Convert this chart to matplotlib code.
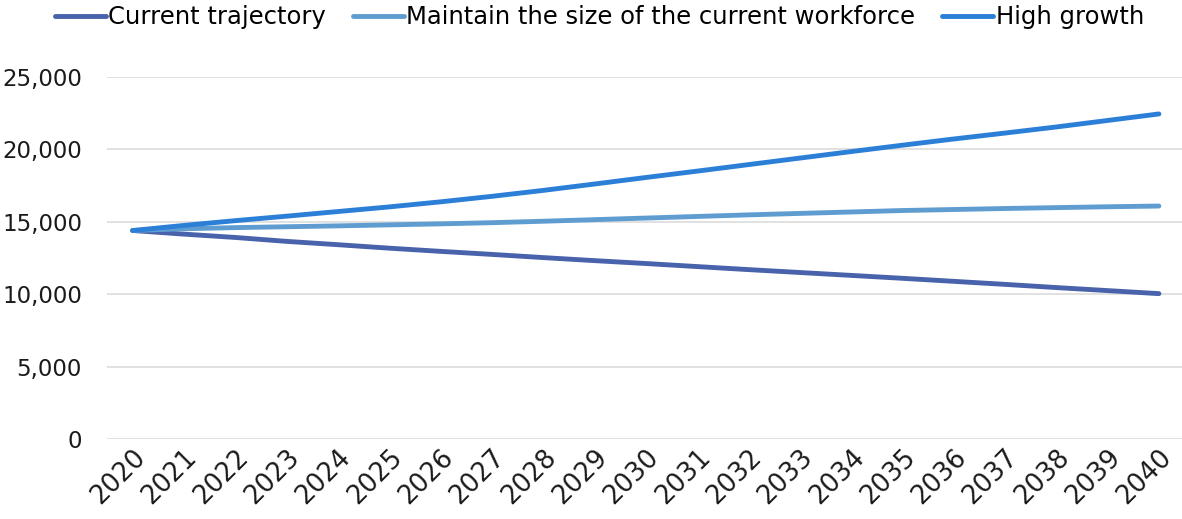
import matplotlib
matplotlib.use("Agg")
import matplotlib.pyplot as plt
from matplotlib.ticker import FuncFormatter

plt.rcParams["font.family"] = ["DejaVu Sans"]

# Workforce projections by scenario, 2020-2040
years = list(range(2020, 2041))
current_trajectory = [14400, 14150, 13920, 13650, 13420, 13180, 12960, 12750, 12530, 12320,
                      12120, 11910, 11700, 11500, 11300, 11100, 10890, 10680, 10460, 10250, 10040]
maintain_size = [14400, 14520, 14600, 14660, 14720, 14790, 14860, 14940, 15040, 15150,
                 15260, 15370, 15480, 15580, 15680, 15780, 15850, 15920, 15980, 16040, 16090]
high_growth = [14400, 14750, 15080, 15390, 15710, 16030, 16380, 16760, 17170, 17610,
               18060, 18500, 18950, 19400, 19850, 20290, 20720, 21130, 21550, 22000, 22450]

series = [
    ("Current trajectory", current_trajectory, "#4863AB"),
    ("Maintain the size of the current workforce", maintain_size, "#5F9DD1"),
    ("High growth", high_growth, "#2C7FD7"),
]

fig = plt.figure(figsize=(11.82, 5.19), dpi=100)
ax = fig.add_axes([0.0905, 0.1541, 0.9095, 0.6975])

for label, values, color in series:
    ax.plot(years, values, color=color, linewidth=3.5, label=label,
            solid_capstyle="round", solid_joinstyle="round")

ax.set_xlim(2019.5, 2040.45)
ax.set_ylim(0, 25000)
ax.set_yticks(range(0, 25001, 5000))
ax.yaxis.set_major_formatter(FuncFormatter(lambda v, _: f"{int(v):,}"))
ax.set_xticks(years)
ax.set_xticklabels([str(y) for y in years], rotation=45, ha="right", va="top",
                   rotation_mode="anchor")

ax.grid(axis="y", color="#D9D9D9", linewidth=1.1)
ax.set_axisbelow(True)
for spine in ax.spines.values():
    spine.set_visible(False)
ax.tick_params(axis="both", length=0, colors="#1a1a1a")
ax.tick_params(axis="y", pad=18, labelsize=16.5)
ax.tick_params(axis="x", pad=4, labelsize=18.5)

fig.legend(loc="center", bbox_to_anchor=(0.507, 0.967), ncol=3, frameon=False,
           fontsize=17.5, handlelength=2.1, handletextpad=0.1, columnspacing=1.1,
           borderaxespad=0)

fig.savefig("out.png", dpi=100)
